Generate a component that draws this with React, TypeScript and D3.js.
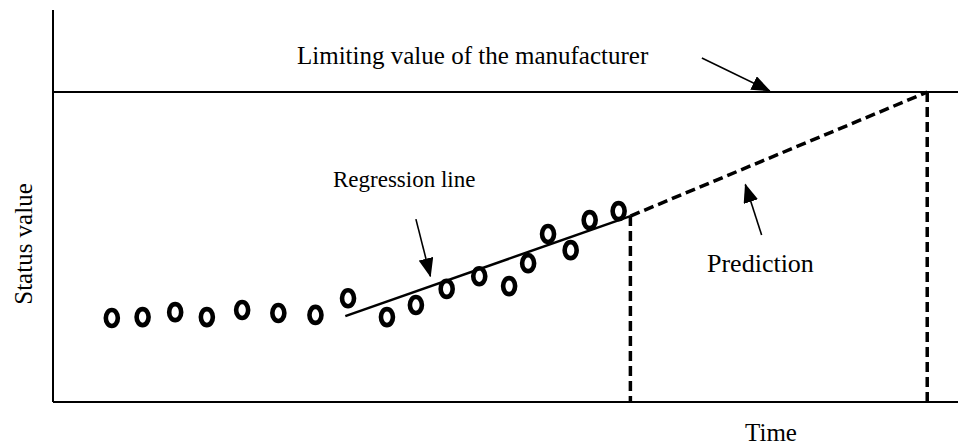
import React from 'react';
import * as d3 from 'd3';

// observed status values (time index 0..100, status value with limit = 100)
const timeIdx = [6.5, 9.9, 13.5, 17.0, 20.9, 24.9, 29.0, 32.6, 36.9, 40.1, 43.5, 47.1, 50.4, 52.5, 54.7, 57.2, 59.3, 62.5];
const statusVals = [27.1, 27.4, 29.0, 27.4, 29.7, 28.7, 28.1, 33.5, 27.4, 31.3, 36.5, 40.6, 37.4, 44.8, 54.2, 49.0, 58.7, 61.6];

const regressionX = [32.3, 63.8];
const regressionY = [27.7, 60.0];

const predictionX = [63.8, 96.6];
const predictionY = [60.0, 100];

const limitValue = 100;

const W = 958;
const H = 446;
const margin = { top: 10, right: 0, bottom: 44, left: 53 };

const FONT = "'Liberation Serif', 'Times New Roman', serif";

export default function App() {
  const x = d3.scaleLinear().domain([0, 100]).range([margin.left, W - margin.right]);
  const y = d3.scaleLinear().domain([0, 126.5]).range([H - margin.bottom, margin.top]);

  const line = d3.line<[number, number]>()
    .x(d => x(d[0]))
    .y(d => y(d[1]));

  const regPts: [number, number][] = regressionX.map((v, i) => [v, regressionY[i]]);
  const predPts: [number, number][] = predictionX.map((v, i) => [v, predictionY[i]]);

  const x0 = x.range()[0];
  const x1 = x.range()[1];
  const yb = y(0);

  // annotation arrows, in data units
  const arrows = [
    { from: [71.7, 111.0], to: [79.2, 100.4] },
    { from: [40.1, 59.0], to: [41.7, 40.6] },
    { from: [78.3, 53.9], to: [76.5, 70.2] },
  ];

  return (
    <svg width={W} height={H} style={{ position: 'absolute', left: 0, top: 0, background: '#fff' }}>
      <defs>
        <marker id="head" markerUnits="userSpaceOnUse" markerWidth="19" markerHeight="15"
                refX="18" refY="7.5" orient="auto">
          <path d="M0,0 L19,7.5 L0,15 Z" fill="#000" />
        </marker>
      </defs>

      {/* axes */}
      <line x1={x0} x2={x0} y1={margin.top} y2={yb} stroke="#000" strokeWidth={2} />
      <line x1={x0} x2={x1} y1={yb} y2={yb} stroke="#000" strokeWidth={2} />

      {/* limit */}
      <line x1={x0} x2={x1} y1={y(limitValue)} y2={y(limitValue)} stroke="#000" strokeWidth={2} />

      {/* regression + prediction */}
      <path d={line(regPts) || ''} fill="none" stroke="#000" strokeWidth={2.5} />
      <path d={line(predPts) || ''} fill="none" stroke="#000" strokeWidth={3.5} strokeDasharray="10,5" />

      <line x1={x(predictionX[0])} x2={x(predictionX[0])} y1={y(predictionY[0])} y2={yb}
            stroke="#000" strokeWidth={3.5} strokeDasharray="10,5" />
      <line x1={x(predictionX[1])} x2={x(predictionX[1])} y1={y(predictionY[1])} y2={yb}
            stroke="#000" strokeWidth={3.5} strokeDasharray="10,5" />

      {/* points */}
      {timeIdx.map((t, i) => (
        <ellipse key={i} cx={x(t)} cy={y(statusVals[i])} rx={6} ry={8}
                 fill="none" stroke="#000" strokeWidth={4.6} />
      ))}

      {/* arrows */}
      {arrows.map((a, i) => (
        <line key={i} x1={x(a.from[0])} y1={y(a.from[1])} x2={x(a.to[0])} y2={y(a.to[1])}
              stroke="#000" strokeWidth={1.6} markerEnd="url(#head)" />
      ))}

      {/* labels */}
      <g fontFamily={FONT} fill="#000">
        <text x={297} y={64} fontSize={25}>Limiting value of the manufacturer</text>
        <text x={333} y={187} fontSize={23}>Regression line</text>
        <text x={707} y={272} fontSize={26}>Prediction</text>
        <text x={771} y={441} fontSize={25} textAnchor="middle">Time</text>
        <text transform="translate(32,244) rotate(-90)" fontSize={25} textAnchor="middle">Status value</text>
      </g>
    </svg>
  );
}
